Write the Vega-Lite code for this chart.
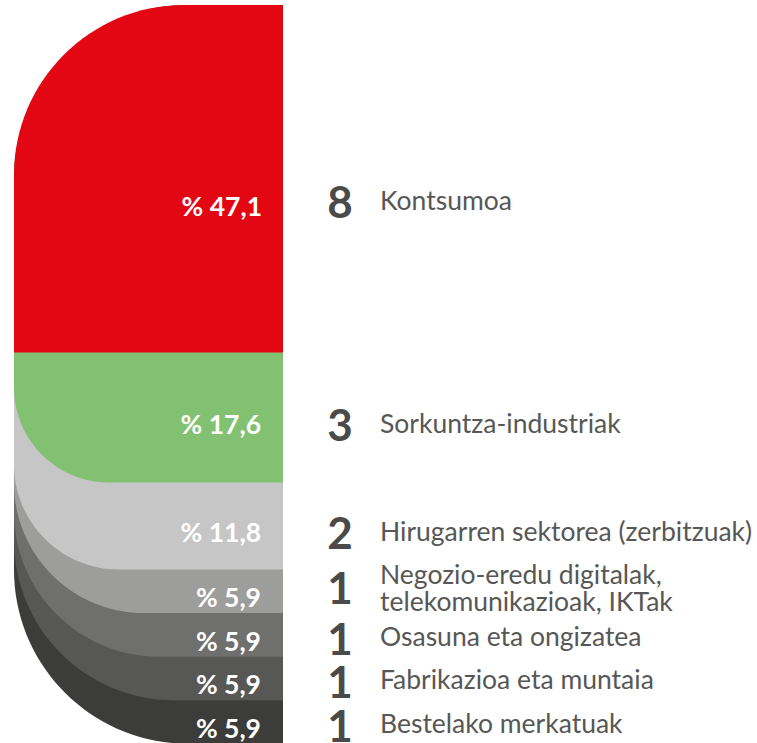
{
  "$schema": "https://vega.github.io/schema/vega-lite/v6.json",
  "width": 269,
  "height": 738,
  "padding": {"left": 14, "top": 5, "right": 0, "bottom": 0},
  "autosize": {"type": "pad"},
  "background": "white",
  "config": {"view": {"stroke": null}, "text": {"font": "Lato"}},
  "data": {
    "values": [
      {"order": 1, "name": "Kontsumoa", "count": 8, "pct": 47.1},
      {"order": 2, "name": "Sorkuntza-industriak", "count": 3, "pct": 17.6},
      {"order": 3, "name": "Hirugarren sektorea (zerbitzuak)", "count": 2, "pct": 11.8},
      {"order": 4, "name": "Negozio-eredu digitalak,\ntelekomunikazioak, IKTak", "count": 1, "pct": 5.9},
      {"order": 5, "name": "Osasuna eta ongizatea", "count": 1, "pct": 5.9},
      {"order": 6, "name": "Fabrikazioa eta muntaia", "count": 1, "pct": 5.9},
      {"order": 7, "name": "Bestelako merkatuak", "count": 1, "pct": 5.9}
    ]
  },
  "transform": [
    {"stack": "pct", "groupby": [], "sort": [{"field": "order", "order": "ascending"}], "as": ["y0", "y1"]},
    {"calculate": "(datum.y0 + datum.y1) / 2", "as": "mid"},
    {"calculate": "'% ' + replace(format(datum.pct, '.1f'), '.', ',')", "as": "pctLabel"}
  ],
  "encoding": {
    "x": {"datum": 0, "type": "quantitative", "scale": {"domain": [0, 1]}, "axis": null}
  },
  "layer": [
    {
      "transform": [{"filter": "datum.order == 7"}],
      "mark": {"type": "bar", "clip": true, "color": "#3c3c3b", "cornerRadiusTopLeft": 174, "cornerRadiusBottomLeft": 174},
      "encoding": {
        "x2": {"datum": 1.3},
        "y": {"field": "y1", "type": "quantitative", "scale": {"domain": [0, 100], "reverse": true}, "axis": null},
        "y2": {"datum": 0}
      }
    },
    {
      "transform": [{"filter": "datum.order == 6"}],
      "mark": {"type": "bar", "clip": true, "color": "#575756", "cornerRadiusTopLeft": 174, "cornerRadiusBottomLeft": 160},
      "encoding": {
        "x2": {"datum": 1.3},
        "y": {"field": "y1", "type": "quantitative", "axis": null},
        "y2": {"datum": 0}
      }
    },
    {
      "transform": [{"filter": "datum.order == 5"}],
      "mark": {"type": "bar", "clip": true, "color": "#6f6f6e", "cornerRadiusTopLeft": 174, "cornerRadiusBottomLeft": 145},
      "encoding": {
        "x2": {"datum": 1.3},
        "y": {"field": "y1", "type": "quantitative", "axis": null},
        "y2": {"datum": 0}
      }
    },
    {
      "transform": [{"filter": "datum.order == 4"}],
      "mark": {"type": "bar", "clip": true, "color": "#9d9d9c", "cornerRadiusTopLeft": 174, "cornerRadiusBottomLeft": 130},
      "encoding": {
        "x2": {"datum": 1.3},
        "y": {"field": "y1", "type": "quantitative", "axis": null},
        "y2": {"datum": 0}
      }
    },
    {
      "transform": [{"filter": "datum.order == 3"}],
      "mark": {"type": "bar", "clip": true, "color": "#c6c6c6", "cornerRadiusTopLeft": 174, "cornerRadiusBottomLeft": 105},
      "encoding": {
        "x2": {"datum": 1.3},
        "y": {"field": "y1", "type": "quantitative", "axis": null},
        "y2": {"datum": 0}
      }
    },
    {
      "transform": [{"filter": "datum.order == 2"}],
      "mark": {"type": "bar", "clip": true, "color": "#82c171", "cornerRadiusTopLeft": 174, "cornerRadiusBottomLeft": 95},
      "encoding": {
        "x2": {"datum": 1.3},
        "y": {"field": "y1", "type": "quantitative", "axis": null},
        "y2": {"datum": 0}
      }
    },
    {
      "transform": [{"filter": "datum.order == 1"}],
      "mark": {"type": "bar", "clip": true, "color": "#e30613", "cornerRadiusTopLeft": 170},
      "encoding": {
        "x2": {"datum": 1.3},
        "y": {"field": "y1", "type": "quantitative", "axis": null},
        "y2": {"datum": 0}
      }
    },
    {
      "transform": [{"filter": "datum.order >= 2"}],
      "mark": {"type": "text", "align": "right", "baseline": "middle", "dx": -22, "dy": 8, "fontSize": 26.5, "fontWeight": "bold", "color": "#ffffff"},
      "encoding": {
        "x": {"datum": 1, "type": "quantitative"},
        "y": {"field": "mid", "type": "quantitative", "axis": null},
        "text": {"field": "pctLabel"}
      }
    },
    {
      "transform": [{"filter": "datum.order == 1"}],
      "mark": {"type": "text", "align": "right", "baseline": "middle", "dx": -21, "dy": 29, "fontSize": 26.5, "fontWeight": "bold", "color": "#ffffff"},
      "encoding": {
        "x": {"datum": 1, "type": "quantitative"},
        "y": {"field": "mid", "type": "quantitative", "axis": null},
        "text": {"field": "pctLabel"}
      }
    },
    {
      "transform": [{"filter": "datum.order == 1"}],
      "mark": {"type": "text", "align": "center", "baseline": "middle", "dx": 57, "dy": 26, "fontSize": 44, "fontWeight": "bold", "color": "#4a4a49"},
      "encoding": {
        "x": {"datum": 1, "type": "quantitative"},
        "y": {"field": "mid", "type": "quantitative", "axis": null},
        "text": {"field": "count"}
      }
    },
    {
      "transform": [{"filter": "datum.order == 2 || datum.order == 3"}],
      "mark": {"type": "text", "align": "center", "baseline": "middle", "dx": 57, "dy": 10, "fontSize": 44, "fontWeight": "bold", "color": "#4a4a49"},
      "encoding": {
        "x": {"datum": 1, "type": "quantitative"},
        "y": {"field": "mid", "type": "quantitative", "axis": null},
        "text": {"field": "count"}
      }
    },
    {
      "transform": [{"filter": "datum.order == 4"}],
      "mark": {"type": "text", "align": "center", "baseline": "middle", "dx": 57, "dy": 0, "fontSize": 44, "fontWeight": "bold", "color": "#4a4a49"},
      "encoding": {
        "x": {"datum": 1, "type": "quantitative"},
        "y": {"field": "mid", "type": "quantitative", "axis": null},
        "text": {"field": "count"}
      }
    },
    {
      "transform": [{"filter": "datum.order >= 5"}],
      "mark": {"type": "text", "align": "center", "baseline": "middle", "dx": 57, "dy": 7, "fontSize": 44, "fontWeight": "bold", "color": "#4a4a49"},
      "encoding": {
        "x": {"datum": 1, "type": "quantitative"},
        "y": {"field": "mid", "type": "quantitative", "axis": null},
        "text": {"field": "count"}
      }
    },
    {
      "transform": [{"filter": "datum.order == 1"}],
      "mark": {"type": "text", "align": "left", "baseline": "middle", "dx": 97, "dy": 23, "fontSize": 26.5, "color": "#575756"},
      "encoding": {
        "x": {"datum": 1, "type": "quantitative"},
        "y": {"field": "mid", "type": "quantitative", "axis": null},
        "text": {"field": "name"}
      }
    },
    {
      "transform": [{"filter": "datum.order == 2 || datum.order == 3"}],
      "mark": {"type": "text", "align": "left", "baseline": "middle", "dx": 97, "dy": 7, "fontSize": 26.5, "color": "#575756"},
      "encoding": {
        "x": {"datum": 1, "type": "quantitative"},
        "y": {"field": "mid", "type": "quantitative", "axis": null},
        "text": {"field": "name"}
      }
    },
    {
      "transform": [{"filter": "datum.order == 4"}],
      "mark": {"type": "text", "align": "left", "baseline": "middle", "dx": 97, "dy": -15, "fontSize": 26.5, "lineBreak": "\n", "lineHeight": 27, "color": "#575756"},
      "encoding": {
        "x": {"datum": 1, "type": "quantitative"},
        "y": {"field": "mid", "type": "quantitative", "axis": null},
        "text": {"field": "name"}
      }
    },
    {
      "transform": [{"filter": "datum.order >= 5"}],
      "mark": {"type": "text", "align": "left", "baseline": "middle", "dx": 97, "dy": 3, "fontSize": 26.5, "color": "#575756"},
      "encoding": {
        "x": {"datum": 1, "type": "quantitative"},
        "y": {"field": "mid", "type": "quantitative", "axis": null},
        "text": {"field": "name"}
      }
    }
  ]
}
